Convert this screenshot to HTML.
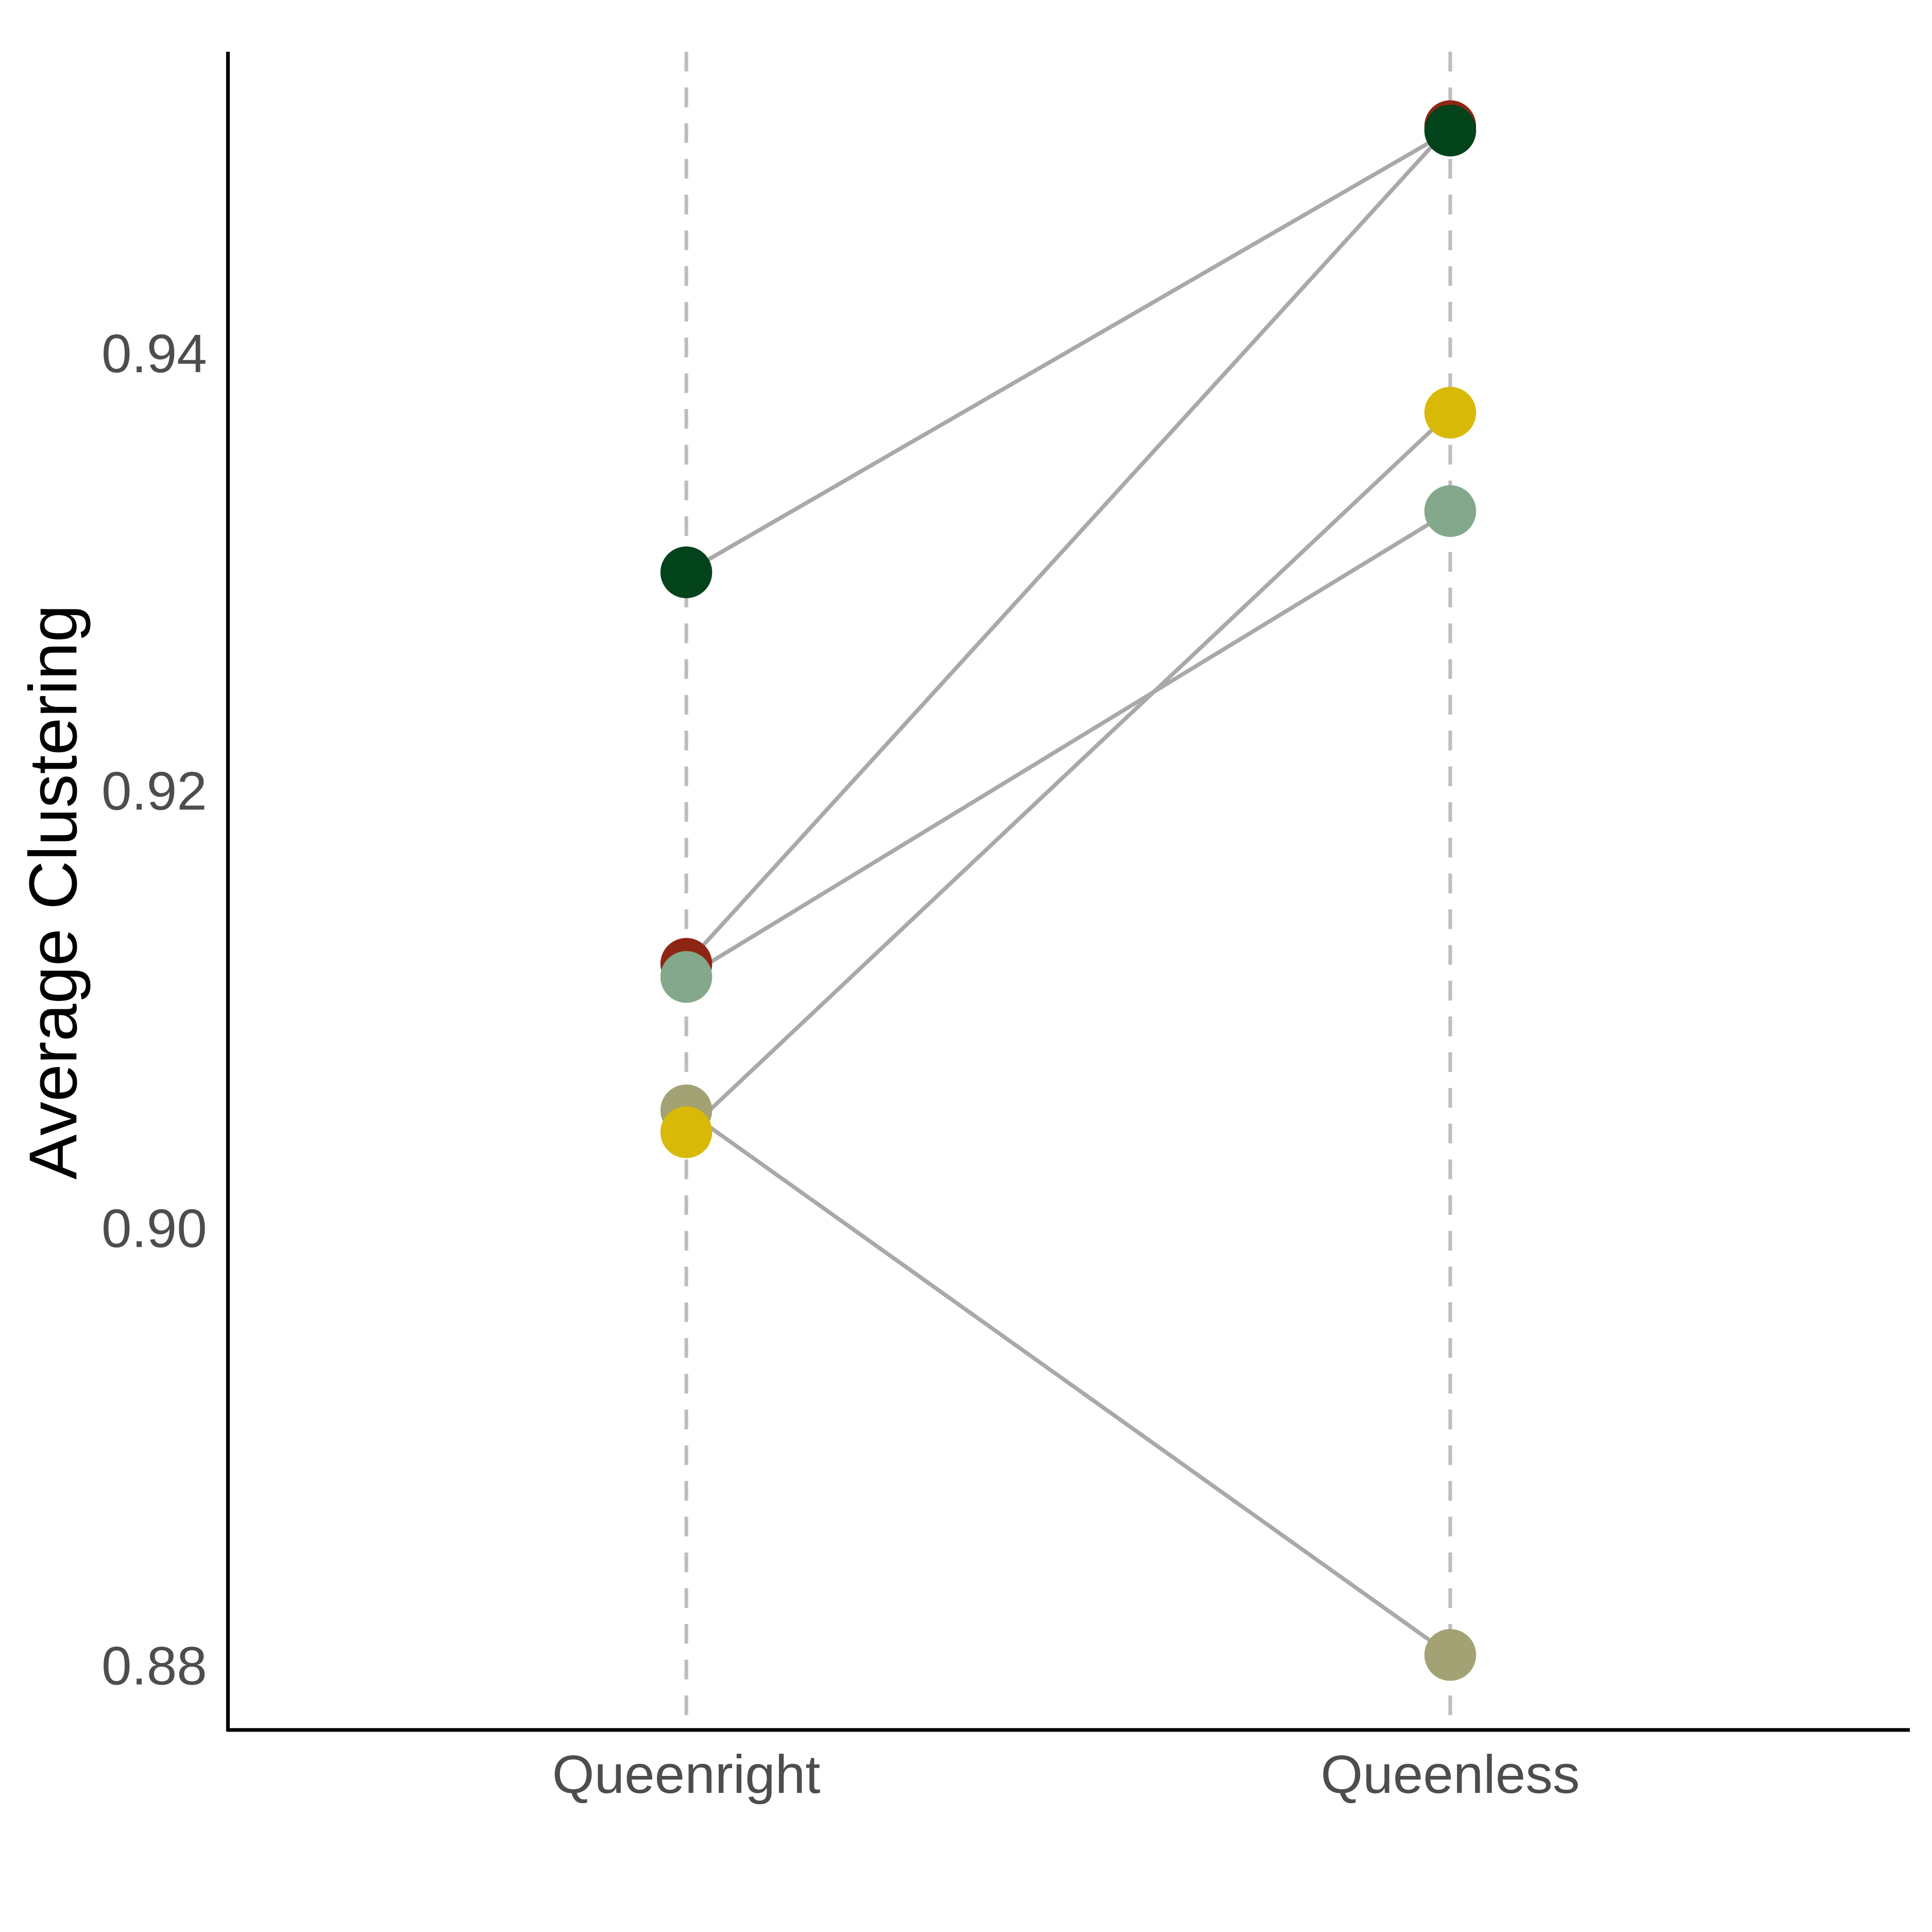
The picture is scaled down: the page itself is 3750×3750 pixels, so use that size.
<!DOCTYPE html>
<html><head><meta charset="utf-8"><style>html,body{margin:0;padding:0;background:#fff}svg{display:block}</style></head>
<body>
<svg id="chart" width="3750" height="3750" viewBox="0 0 1568 1568" xmlns="http://www.w3.org/2000/svg" font-family="Liberation Sans, sans-serif">
<g id="grid"></g><g id="lines"></g><g id="pts"></g><g id="axes"></g>
</svg>
<script>
const categories = ["Queenright","Queenless"];
const colonyColors = ["#02431C","#8E2616","#84A88C","#A2A274","#D9B907"];
const queenrightValues = [0.9300, 0.9121, 0.9115, 0.9054, 0.9044];
const queenlessValues = [0.9502, 0.9504, 0.9328, 0.8805, 0.9373];
const yTicks = [0.88, 0.90, 0.92, 0.94];
const yTickLabels = ["0.88","0.90","0.92","0.94"];
const NS="http://www.w3.org/2000/svg";
function xScale(i){return 557 + i*620;}
function yScale(v){return 997 - (v-0.90)/0.02*355;}
function mk(tag,attrs,parent,text){const e=document.createElementNS(NS,tag);for(const k in attrs)e.setAttribute(k,attrs[k]);if(text!==undefined)e.textContent=text;document.getElementById(parent).appendChild(e);return e;}
categories.forEach((c,i)=>{
  const l=mk('line',{x1:xScale(i),x2:xScale(i),y1:42,y2:1403,stroke:'#bebebe','stroke-width':3,'stroke-dasharray':'16,13'},'grid');
  
  
});
queenrightValues.forEach((v,k)=>{
  const l=mk('line',{x1:xScale(0),y1:yScale(v),x2:xScale(1),y2:yScale(queenlessValues[k]),stroke:'#a9a9a9','stroke-width':3.3},'lines');
  
  
});
[0,1].forEach(i=>{
  const vals=i===0?queenrightValues:queenlessValues;
  const ord=i===0?[0,1,2,3,4]:[1,0,2,3,4];
  ord.forEach(k=>{
    const p=mk('circle',{cx:xScale(i),cy:yScale(vals[k]),r:21,fill:colonyColors[k]},'pts');
    
    
  });
});
const ya=mk('line',{x1:185,x2:185,y1:42,y2:1405,stroke:'#000','stroke-width':3},'axes');


const xa=mk('line',{x1:184,x2:1550,y1:1404,y2:1404,stroke:'#000','stroke-width':3},'axes');


yTicks.forEach((t,j)=>{
  const tx=mk('text',{x:168,y:yScale(t)+15,'text-anchor':'end','font-size':44,fill:'#4d4d4d'},'axes',yTickLabels[j]);
  
  
});
categories.forEach((c,i)=>{
  const tx=mk('text',{x:xScale(i),y:1455,'text-anchor':'middle','font-size':44,fill:'#4d4d4d'},'axes',c);
  
  
});
const yt=mk('text',{x:0,y:0,'text-anchor':'middle','font-size':55,fill:'#000',transform:'translate(62,724) rotate(-90)'},'axes','Average Clustering');


</script>
</body></html>
